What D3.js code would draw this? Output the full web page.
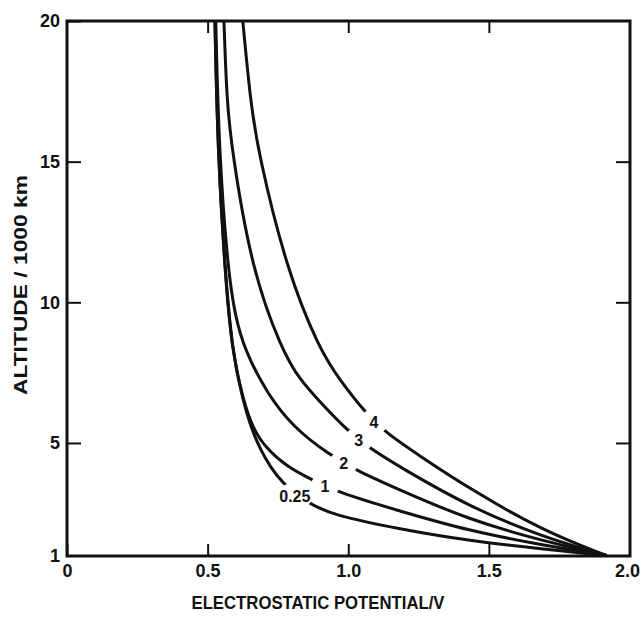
<!DOCTYPE html>
<html>
<head>
<meta charset="utf-8">
<script src="https://cdn.jsdelivr.net/npm/d3@7"></script>
<style>
  body { margin: 0; background: #fff; }
  text { font-family: "Liberation Sans", Arial, sans-serif; font-weight: bold; fill: #111; }
</style>
</head>
<body>
<div id="vis"><svg></svg></div>
<script>
// potential (V) vs altitude (1000 km), one list per curve
const curve025 = [[0.526,20],[0.536,15.41],[0.561,11.14],[0.586,8.30],[0.625,6.53],[0.657,5.46],[0.689,4.75],[0.721,4.18],[0.764,3.58],[0.853,2.87],[0.945,2.44],[1.183,1.94],[1.432,1.52],[1.691,1.23],[1.918,1.0]];
const curve1   = [[0.526,20],[0.536,15.41],[0.562,11.14],[0.587,8.30],[0.626,6.53],[0.661,5.53],[0.703,4.86],[0.782,4.15],[0.874,3.68],[0.959,3.26],[1.183,2.58],[1.432,1.87],[1.691,1.37],[1.918,1.0]];
const curve2   = [[0.529,20],[0.540,15.41],[0.572,11.14],[0.598,9.50],[0.632,8.30],[0.710,6.78],[0.803,5.57],[0.934,4.57],[1.034,4.00],[1.183,3.33],[1.432,2.26],[1.691,1.52],[1.918,1.0]];
const curve3   = [[0.558,20],[0.568,17.19],[0.586,15.41],[0.657,11.14],[0.764,8.30],[0.828,7.24],[0.906,6.39],[0.995,5.46],[1.080,4.79],[1.183,4.15],[1.432,2.72],[1.691,1.66],[1.918,1.0]];
const curve4   = [[0.625,20],[0.652,17.19],[0.678,15.41],[0.781,11.14],[0.899,8.30],[0.970,7.24],[1.059,6.10],[1.130,5.39],[1.254,4.54],[1.432,3.37],[1.691,1.88],[1.918,1.0]];

const curveNames = ["0.25", "1", "2", "3", "4"];
const curveData = [curve025, curve1, curve2, curve3, curve4];
// where each curve's label sits (potential, altitude)
const labelX = [0.810, 0.917, 0.984, 1.037, 1.091];
const labelY = [3.12, 3.47, 4.29, 5.11, 5.75];

const xTicks = [0, 0.5, 1.0, 1.5, 2.0];
const yTicks = [1, 5, 10, 15, 20];

var margin = {top: 21, right: 11, bottom: 63, left: 67},
    width = 641 - margin.left - margin.right,
    height = 619 - margin.top - margin.bottom;

var svg = d3.select("#vis").select("svg")
  .attr("width", 641)
  .attr("height", 619);

var g = svg.append("g")
  .attr("transform", "translate(" + margin.left + "," + margin.top + ")");

const x = d3.scaleLinear().domain([0, 2]).range([0, width - 0.5]);
const y = d3.scaleLinear().domain([1, 20]).range([height - 0.5, 0]);

// masks that cut a gap in each curve around its label
const defs = svg.append("defs");
curveNames.forEach((name, i) => {
  const m = defs.append("mask").attr("id", "gap" + i).attr("maskUnits", "userSpaceOnUse")
    .attr("x", -100).attr("y", -100).attr("width", 900).attr("height", 900);
  m.append("rect").attr("x", -100).attr("y", -100).attr("width", 900).attr("height", 900).attr("fill", "white");
  m.append("ellipse")
    .attr("cx", x(labelX[i])).attr("cy", y(labelY[i]))
    .attr("rx", name.length > 1 ? 18 : 14).attr("ry", 13)
    .attr("fill", "black");
});

// curves
const line = d3.line()
  .x(d => x(d[0]))
  .y(d => y(d[1]))
  .curve(d3.curveBasis);

g.selectAll(".curve")
  .data(curveData)
  .join("path")
  .attr("class", "curve")
  .attr("d", line)
  .attr("mask", (d, i) => "url(#gap" + i + ")")
  .attr("fill", "none")
  .attr("stroke", "#111")
  .attr("stroke-width", 3)
  .attr("stroke-linejoin", "round");

// curve labels
g.selectAll(".clabel")
  .data(curveNames)
  .join("text")
  .attr("class", "clabel")
  .attr("x", (d, i) => x(labelX[i]))
  .attr("y", (d, i) => y(labelY[i]))
  .attr("dy", "0.36em")
  .attr("text-anchor", "middle")
  .attr("font-size", 16)
  .text(d => d);

// axes, ticks pointing inwards on all four sides
const fmt = d => d === 0 ? "0" : d3.format(".1f")(d);
const yfmt = d => d3.format("d")(d);

const xAxis = g.append("g").attr("transform", `translate(0,${height})`)
  .call(d3.axisBottom(x).tickValues(xTicks).tickFormat(fmt).tickSizeInner(-12).tickSizeOuter(0).tickPadding(8));
const xTop = g.append("g")
  .call(d3.axisTop(x).tickValues(xTicks.slice(1, 4)).tickFormat("").tickSizeInner(-12).tickSizeOuter(0));
const yAxis = g.append("g")
  .call(d3.axisLeft(y).tickValues(yTicks).tickFormat(yfmt).tickSizeInner(-14).tickSizeOuter(0).tickPadding(7));
const yRight = g.append("g").attr("transform", `translate(${width},0)`)
  .call(d3.axisRight(y).tickValues(yTicks.slice(1, 4)).tickFormat("").tickSizeInner(-14).tickSizeOuter(0));

[xAxis, xTop, yAxis, yRight].forEach(a => {
  a.select(".domain").remove();
  a.selectAll(".tick line").attr("stroke", "#111").attr("stroke-width", 2);
  a.selectAll(".tick text").attr("font-size", 18).attr("fill", "#111")
    .style("font-family", "'Liberation Sans', Arial, sans-serif").style("font-weight", "bold");
});
// last x label kept inside the page
xAxis.selectAll(".tick text").filter(d => d === 2).attr("text-anchor", "end").attr("dx", 10);

// frame
g.append("rect")
  .attr("x", 0).attr("y", 0)
  .attr("width", width).attr("height", height)
  .attr("fill", "none")
  .attr("stroke", "#111")
  .attr("stroke-width", 3);

// axis titles
svg.append("text")
  .attr("x", 318).attr("y", 609)
  .attr("text-anchor", "middle")
  .attr("font-size", 18)
  .attr("textLength", 253)
  .attr("lengthAdjust", "spacingAndGlyphs")
  .text("ELECTROSTATIC POTENTIAL/V");

svg.append("text")
  .attr("transform", "translate(27,285) rotate(-90)")
  .attr("text-anchor", "middle")
  .attr("font-size", 18)
  .attr("textLength", 220)
  .attr("lengthAdjust", "spacingAndGlyphs")
  .text("ALTITUDE / 1000 km");
</script>
</body>
</html>
